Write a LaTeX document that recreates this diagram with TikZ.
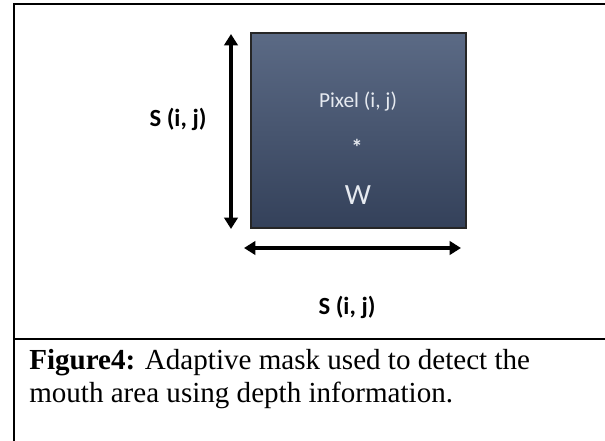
\documentclass[tikz,border=0pt]{standalone}
\usepackage{fontspec}
\setmainfont{Liberation Serif}
\newfontfamily\calib{Carlito}
\usetikzlibrary{arrows.meta}
\definecolor{maskTop}{HTML}{5B6A85}
\definecolor{maskBot}{HTML}{34415A}
\definecolor{maskText}{HTML}{E6EAF0}

\begin{document}
\begin{tikzpicture}[x=0.75pt,y=-0.75pt]
	\useasboundingbox (0,0) rectangle (605,441);
	\coordinate (FrameBL) at (14,441);
	\coordinate (FrameTL) at (14,4);
	\coordinate (FrameTR) at (605,4);
	\coordinate (SplitL) at (14,339);
	\coordinate (SplitR) at (605,339);
	\coordinate (VTop) at (231,34);
	\coordinate (VBot) at (231,229);
	\coordinate (HLeft) at (244,248);
	\coordinate (HRight) at (461,248);
	
	\draw[line width=1.6pt] (FrameBL) -- (FrameTL) -- (FrameTR);
	\draw[line width=1.6pt] (SplitL) -- (SplitR);
	
	\node[draw=black!85, line width=1.1pt, top color=maskTop, bottom color=maskBot,
		minimum width=161.25pt, minimum height=146.25pt, inner sep=0pt] (Mask) at (358.5,130.5) {};
	\node[text=maskText, font=\calib\fontsize{16}{19}\selectfont] (Pixel) at (358,102) {Pixel (i, j)};
	\node[text=maskText, font=\calib\bfseries\fontsize{17}{19}\selectfont] (Star) at (357,147) {*};
	\node[text=maskText, font=\calib\fontsize{22}{26}\selectfont] (W) at (358,195) {W};
	
	\draw[line width=3pt, {Triangle[length=8.5pt,width=10pt]}-{Triangle[length=8.5pt,width=10pt]}] (VTop) -- (VBot);
	\draw[line width=3pt, {Triangle[length=8.5pt,width=10pt]}-{Triangle[length=8.5pt,width=10pt]}] (HLeft) -- (HRight);
	
	\node[font=\calib\bfseries\fontsize{18.5}{22}\selectfont] (SideLabel) at (178,119) {S (i, j)};
	\node[font=\calib\bfseries\fontsize{18.5}{22}\selectfont] (BaseLabel) at (347,307) {S (i, j)};
	
	% anchor is the baseline of the last line
	\node[anchor=base west, align=left, inner sep=0pt, font=\fontsize{21.8}{24.75}\selectfont] (Caption) at (29,402)
		{\textbf{Figure4:} Adaptive mask used to detect the\\mouth area using depth information.};
\end{tikzpicture}
\end{document}
